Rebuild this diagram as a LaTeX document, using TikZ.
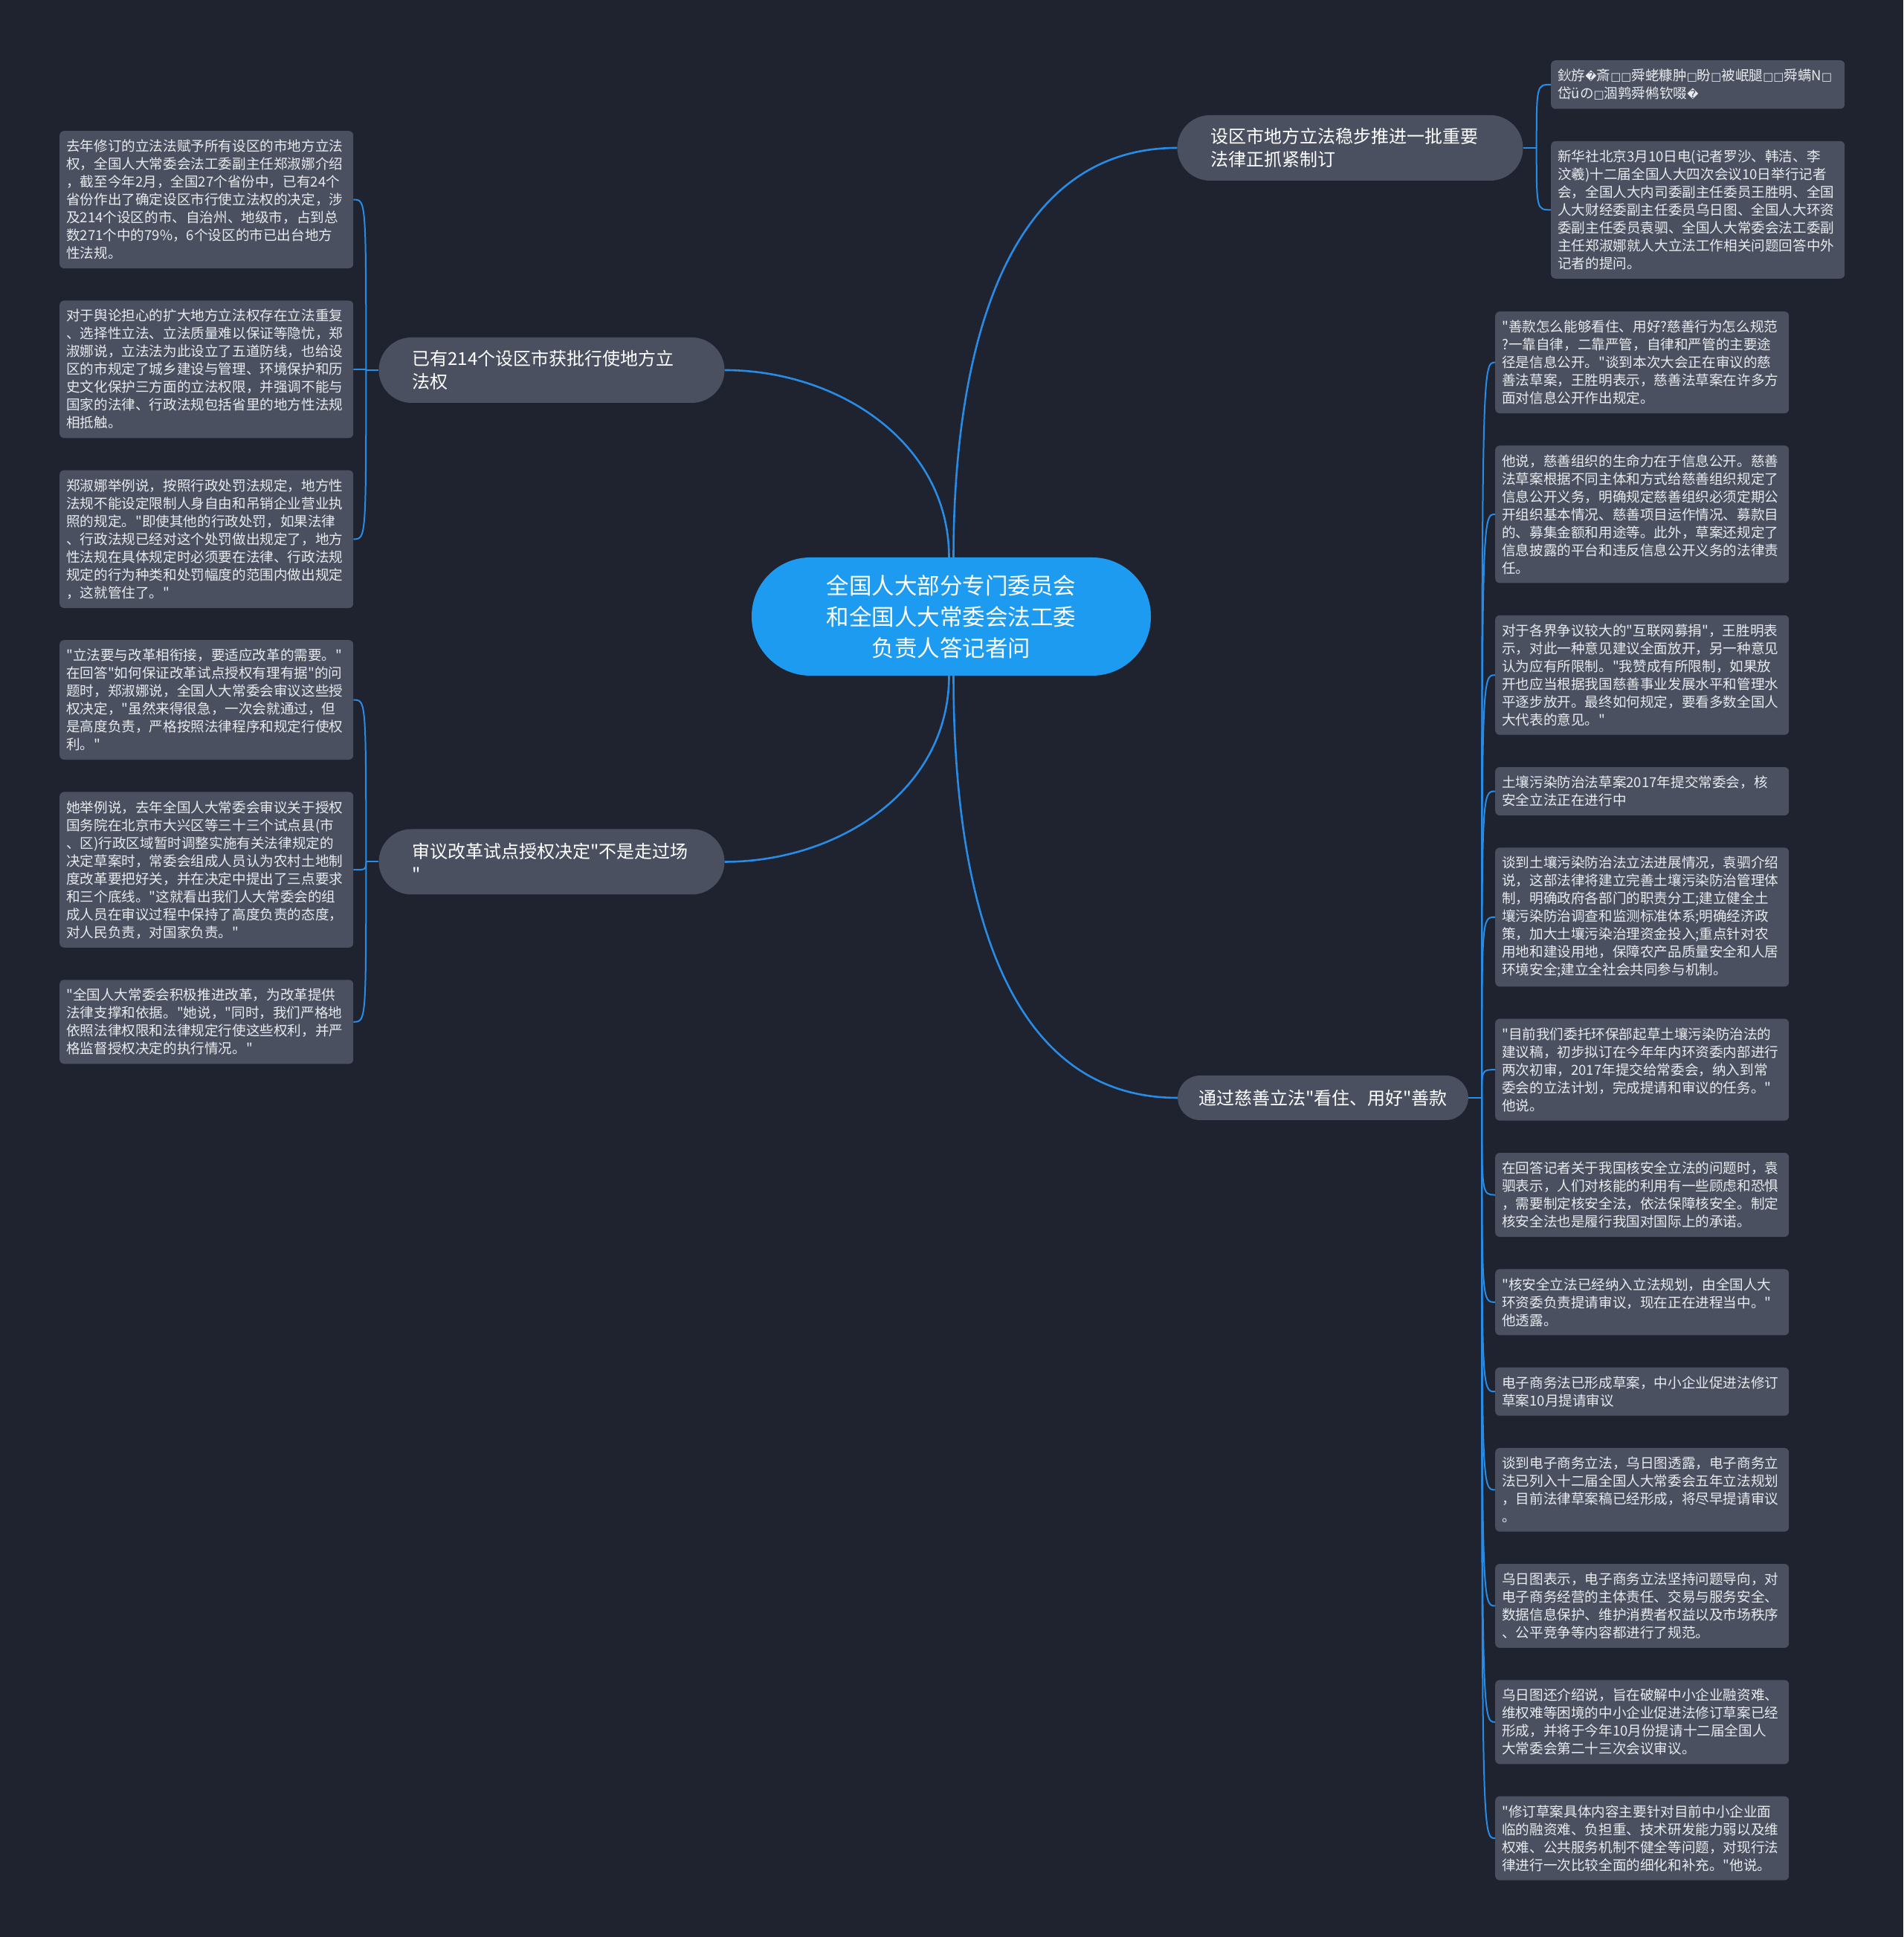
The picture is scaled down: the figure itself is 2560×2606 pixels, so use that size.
\documentclass[tikz,border=0pt]{standalone}
\usepackage{fontspec}
\setmainfont{Noto Sans CJK SC}[Ligatures=TeXOff]
\newfontfamily\repfont[Scale=0.8]{DejaVu Sans}
\usepackage{tikz}
\usetikzlibrary{positioning}
\definecolor{bgc}{HTML}{1F2330}
\definecolor{boxc}{HTML}{4A5060}
\definecolor{hubc}{HTML}{1D9BF0}
\definecolor{linkc}{HTML}{288CE6}
\definecolor{txtc}{HTML}{E8EAEE}
\newcommand{\tofu}{{\repfont □}}
\newcommand{\badch}{{\repfont �}}

\begin{document}
\begin{tikzpicture}[x=1pt, y=1pt, node distance=43pt,
  hub/.style={fill=hubc, text=white, rounded corners=79pt, minimum width=537pt,
    minimum height=159pt, align=center, font=\fontsize{30.5}{42}\selectfont},
  topic/.style={fill=boxc, text=white, rounded corners=44pt, minimum height=88pt,
    text width=375pt, inner xsep=45pt, align=left, font=\fontsize{24}{31}\selectfont},
  topicone/.style={fill=boxc, text=white, rounded corners=30pt, minimum height=60pt,
    inner xsep=28pt, font=\fontsize{24}{31}\selectfont},
  leaf/.style={fill=boxc, text=txtc, rounded corners=6pt, text width=377pt,
    inner xsep=9pt, inner ysep=11.8pt, align=left, font=\fontsize{18.6}{24}\selectfont},
  mainlink/.style={draw=linkc, line width=2.6pt},
  leaflink/.style={draw=linkc, line width=2pt}]
\fill[bgc] (0,0) rectangle (2560,2606);
\useasboundingbox (0,0) rectangle (2560,2606);

% centre and main topics
\node[hub] (ctr) at (1279.5,1776.5) {全国人大部分专门委员会\\和全国人大常委会法工委\\负责人答记者问};
\node[topic] (b1) at (1816,2407) {设区市地方立法稳步推进一批重要\\法律正抓紧制订};
\node[topic] (b2) at (742,2108) {已有214个设区市获批行使地方立\\法权};
\node[topic] (b3) at (742,1446.5) {审议改革试点授权决定"不是走过场\\"};
\node[topicone] (b4) at (1779.5,1129) {通过慈善立法"看住、用好"善款};

% left, upper group
\node[leaf, anchor=north west] (l1) at (80,2430) {去年修订的立法法赋予所有设区的市地方立法\\权，全国人大常委会法工委副主任郑淑娜介绍\\，截至今年2月，全国27个省份中，已有24个\\省份作出了确定设区市行使立法权的决定，涉\\及214个设区的市、自治州、地级市，占到总\\数271个中的79\%，6个设区的市已出台地方\\性法规。};
\node[leaf, below=of l1] (l2) {对于舆论担心的扩大地方立法权存在立法重复\\、选择性立法、立法质量难以保证等隐忧，郑\\淑娜说，立法法为此设立了五道防线，也给设\\区的市规定了城乡建设与管理、环境保护和历\\史文化保护三方面的立法权限，并强调不能与\\国家的法律、行政法规包括省里的地方性法规\\相抵触。};
\node[leaf, below=of l2] (l3) {郑淑娜举例说，按照行政处罚法规定，地方性\\法规不能设定限制人身自由和吊销企业营业执\\照的规定。"即使其他的行政处罚，如果法律\\、行政法规已经对这个处罚做出规定了，地方\\性法规在具体规定时必须要在法律、行政法规\\规定的行为种类和处罚幅度的范围内做出规定\\，这就管住了。"};

% left, lower group
\node[leaf, anchor=north west] (l4) at (80,1745) {"立法要与改革相衔接，要适应改革的需要。"\\在回答"如何保证改革试点授权有理有据"的问\\题时，郑淑娜说，全国人大常委会审议这些授\\权决定，"虽然来得很急，一次会就通过，但\\是高度负责，严格按照法律程序和规定行使权\\利。"};
\node[leaf, below=of l4] (l5) {她举例说，去年全国人大常委会审议关于授权\\国务院在北京市大兴区等三十三个试点县(市\\、区)行政区域暂时调整实施有关法律规定的\\决定草案时，常委会组成人员认为农村土地制\\度改革要把好关，并在决定中提出了三点要求\\和三个底线。"这就看出我们人大常委会的组\\成人员在审议过程中保持了高度负责的态度，\\对人民负责，对国家负责。"};
\node[leaf, below=of l5] (l6) {"全国人大常委会积极推进改革，为改革提供\\法律支撑和依据。"她说，"同时，我们严格地\\依照法律权限和法律规定行使这些权利，并严\\格监督授权决定的执行情况。"};

% right, upper group
\node[leaf, anchor=north west] (t1) at (2086,2525) {鈥斿\badch 斎\tofu\tofu 舜蛯糠肿\tofu 盼\tofu 被岷腿\tofu\tofu 舜螨N\tofu\\岱üの\tofu 涸鹑舜鸺钦啜\badch};
\node[leaf, below=of t1] (t2) {新华社北京3月10日电(记者罗沙、韩洁、李\\汶羲)十二届全国人大四次会议10日举行记者\\会，全国人大内司委副主任委员王胜明、全国\\人大财经委副主任委员乌日图、全国人大环资\\委副主任委员袁驷、全国人大常委会法工委副\\主任郑淑娜就人大立法工作相关问题回答中外\\记者的提问。};

% right, lower group
\node[leaf, anchor=north west] (r1) at (2011,2187) {"善款怎么能够看住、用好?慈善行为怎么规范\\?一靠自律，二靠严管，自律和严管的主要途\\径是信息公开。"谈到本次大会正在审议的慈\\善法草案，王胜明表示，慈善法草案在许多方\\面对信息公开作出规定。};
\node[leaf, below=of r1] (r2) {他说，慈善组织的生命力在于信息公开。慈善\\法草案根据不同主体和方式给慈善组织规定了\\信息公开义务，明确规定慈善组织必须定期公\\开组织基本情况、慈善项目运作情况、募款目\\的、募集金额和用途等。此外，草案还规定了\\信息披露的平台和违反信息公开义务的法律责\\任。};
\node[leaf, below=of r2] (r3) {对于各界争议较大的"互联网募捐"，王胜明表\\示，对此一种意见建议全面放开，另一种意见\\认为应有所限制。"我赞成有所限制，如果放\\开也应当根据我国慈善事业发展水平和管理水\\平逐步放开。最终如何规定，要看多数全国人\\大代表的意见。"};
\node[leaf, below=of r3] (r4) {土壤污染防治法草案2017年提交常委会，核\\安全立法正在进行中};
\node[leaf, below=of r4] (r5) {谈到土壤污染防治法立法进展情况，袁驷介绍\\说，这部法律将建立完善土壤污染防治管理体\\制，明确政府各部门的职责分工;建立健全土\\壤污染防治调查和监测标准体系;明确经济政\\策，加大土壤污染治理资金投入;重点针对农\\用地和建设用地，保障农产品质量安全和人居\\环境安全;建立全社会共同参与机制。};
\node[leaf, below=of r5] (r6) {"目前我们委托环保部起草土壤污染防治法的\\建议稿，初步拟订在今年年内环资委内部进行\\两次初审，2017年提交给常委会，纳入到常\\委会的立法计划，完成提请和审议的任务。"\\他说。};
\node[leaf, below=of r6] (r7) {在回答记者关于我国核安全立法的问题时，袁\\驷表示，人们对核能的利用有一些顾虑和恐惧\\，需要制定核安全法，依法保障核安全。制定\\核安全法也是履行我国对国际上的承诺。};
\node[leaf, below=of r7] (r8) {"核安全立法已经纳入立法规划，由全国人大\\环资委负责提请审议，现在正在进程当中。"\\他透露。};
\node[leaf, below=of r8] (r9) {电子商务法已形成草案，中小企业促进法修订\\草案10月提请审议};
\node[leaf, below=of r9] (r10) {谈到电子商务立法，乌日图透露，电子商务立\\法已列入十二届全国人大常委会五年立法规划\\，目前法律草案稿已经形成，将尽早提请审议\\。};
\node[leaf, below=of r10] (r11) {乌日图表示，电子商务立法坚持问题导向，对\\电子商务经营的主体责任、交易与服务安全、\\数据信息保护、维护消费者权益以及市场秩序\\、公平竞争等内容都进行了规范。};
\node[leaf, below=of r11] (r12) {乌日图还介绍说，旨在破解中小企业融资难、\\维权难等困境的中小企业促进法修订草案已经\\形成，并将于今年10月份提请十二届全国人\\大常委会第二十三次会议审议。};
\node[leaf, below=of r12] (r13) {"修订草案具体内容主要针对目前中小企业面\\临的融资难、负担重、技术研发能力弱以及维\\权难、公共服务机制不健全等问题，对现行法\\律进行一次比较全面的细化和补充。"他说。};

% main links
\draw[mainlink] ([xshift=3pt]ctr.north) to[out=90,in=180] (b1.west);
\draw[mainlink] ([xshift=-3pt]ctr.north) to[out=90,in=0] (b2.east);
\draw[mainlink] ([xshift=-3pt]ctr.south) to[out=-90,in=0] (b3.east);
\draw[mainlink] ([xshift=3pt]ctr.south) to[out=-90,in=180] (b4.west);

% leaf links
\coordinate[right=18pt of b1] (s1);
\coordinate[left=17pt of b2] (s2);
\coordinate[left=17pt of b3] (s3);
\coordinate[right=18pt of b4] (s4);
\draw[leaflink] (b1.east) -- (s1);
\draw[leaflink] (s1) .. controls (s1 |- t1.west) .. (t1.west);
\draw[leaflink] (s1) .. controls (s1 |- t2.west) .. (t2.west);
\draw[leaflink] (b2.west) -- (s2);
\draw[leaflink] (s2) .. controls (s2 |- l1.east) .. (l1.east);
\draw[leaflink] (s2) .. controls (s2 |- l2.east) .. (l2.east);
\draw[leaflink] (s2) .. controls (s2 |- l3.east) .. (l3.east);
\draw[leaflink] (b3.west) -- (s3);
\draw[leaflink] (s3) .. controls (s3 |- l4.east) .. (l4.east);
\draw[leaflink] (s3) .. controls (s3 |- l5.east) .. (l5.east);
\draw[leaflink] (s3) .. controls (s3 |- l6.east) .. (l6.east);
\draw[leaflink] (b4.east) -- (s4);
\draw[leaflink] (s4) .. controls (s4 |- r1.west) .. (r1.west);
\draw[leaflink] (s4) .. controls (s4 |- r2.west) .. (r2.west);
\draw[leaflink] (s4) .. controls (s4 |- r3.west) .. (r3.west);
\draw[leaflink] (s4) .. controls (s4 |- r4.west) .. (r4.west);
\draw[leaflink] (s4) .. controls (s4 |- r5.west) .. (r5.west);
\draw[leaflink] (s4) .. controls (s4 |- r6.west) .. (r6.west);
\draw[leaflink] (s4) .. controls (s4 |- r7.west) .. (r7.west);
\draw[leaflink] (s4) .. controls (s4 |- r8.west) .. (r8.west);
\draw[leaflink] (s4) .. controls (s4 |- r9.west) .. (r9.west);
\draw[leaflink] (s4) .. controls (s4 |- r10.west) .. (r10.west);
\draw[leaflink] (s4) .. controls (s4 |- r11.west) .. (r11.west);
\draw[leaflink] (s4) .. controls (s4 |- r12.west) .. (r12.west);
\draw[leaflink] (s4) .. controls (s4 |- r13.west) .. (r13.west);
\end{tikzpicture}
\end{document}
